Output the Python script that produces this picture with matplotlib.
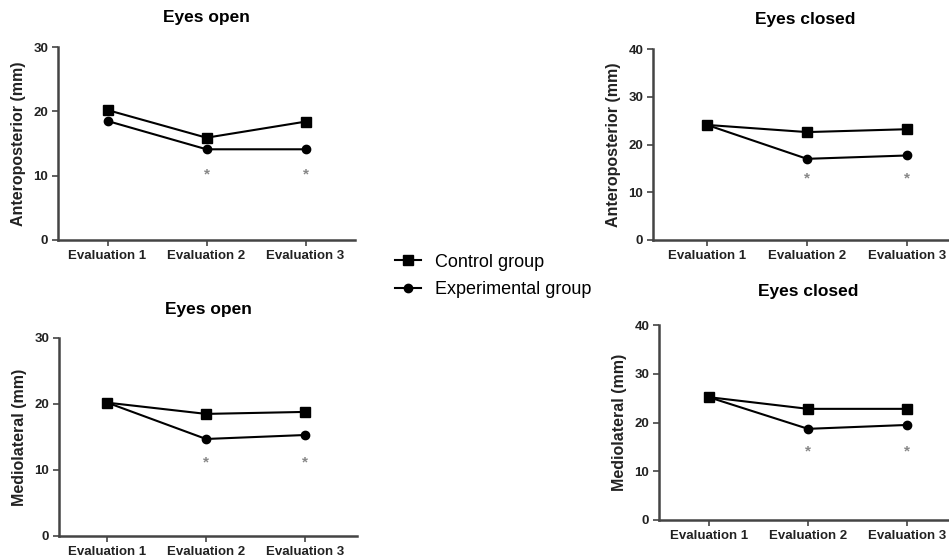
import matplotlib.pyplot as plt
import numpy as np

plt.rcParams['font.family'] = ['Liberation Sans', 'DejaVu Sans']

evals = ['Evaluation 1', 'Evaluation 2', 'Evaluation 3']

# anteroposterior, eyes open / closed
ap_open_ctrl = [20.2, 15.9, 18.4]
ap_open_exp = [18.5, 14.1, 14.1]
ap_closed_ctrl = [24.1, 22.6, 23.2]
ap_closed_exp = [24.1, 17.0, 17.7]
# mediolateral, eyes open / closed
ml_open_ctrl = [20.2, 18.5, 18.8]
ml_open_exp = [20.2, 14.7, 15.3]
ml_closed_ctrl = [25.2, 22.8, 22.8]
ml_closed_exp = [25.2, 18.7, 19.5]

# asterisk heights (significance marks at evaluation 2 and 3)
star_ap_open = [10.2, 10.2]
star_ap_closed = [12.8, 12.8]
star_ml_open = [11.2, 11.2]
star_ml_closed = [14.0, 14.0]

fig = plt.figure(figsize=(9.49, 5.6), dpi=100)
W, H = 949, 560

def make_ax(x0, y0, w, h):
    return fig.add_axes([x0 / W, 1 - y0 / H, w / W, h / H])

panels = [
    (make_ax(58, 240, 297, 193), ap_open_ctrl, ap_open_exp, star_ap_open, 30, 'Eyes open', 'Anteroposterior (mm)', (0.5, 3.5), 18),
    (make_ax(653, 240, 304, 191), ap_closed_ctrl, ap_closed_exp, star_ap_closed, 40, 'Eyes closed', 'Anteroposterior (mm)', (0.46, 3.5), 18),
    (make_ax(59, 536, 298, 198), ml_open_ctrl, ml_open_exp, star_ml_open, 30, 'Eyes open', 'Mediolateral (mm)', (0.51, 3.53), 17),
    (make_ax(659, 520, 298, 195), ml_closed_ctrl, ml_closed_exp, star_ml_closed, 40, 'Eyes closed', 'Mediolateral (mm)', (0.5, 3.5), 21),
]

x = np.arange(1, 4)
for ax, ctrl, exp, stars, ymax, title, ylab, xl, tpad in panels:
    l1, = ax.plot(x, ctrl, color='black', marker='s', markersize=6.5, lw=1.5, label='Control group')
    l2, = ax.plot(x, exp, color='black', marker='o', markersize=6, lw=1.5, label='Experimental group')
    for xs, ys in zip(x[1:], stars):
        ax.text(xs, ys, '*', ha='center', va='center', color='#888888', fontsize=11, fontweight='bold')
    ax.set_xlim(*xl)
    ax.set_ylim(0, ymax)
    ax.set_yticks(np.arange(0, ymax + 1, 10))
    ax.set_xticks(x)
    ax.set_xticklabels(evals)
    for s in ['top', 'right']:
        ax.spines[s].set_visible(False)
    for s in ['left', 'bottom']:
        ax.spines[s].set_color('#444444')
        ax.spines[s].set_linewidth(1.8)
    ax.tick_params(colors='#444444', width=1.2, length=4, pad=3, labelsize=9.5, labelcolor='#222222')
    for lab in ax.get_xticklabels() + ax.get_yticklabels():
        lab.set_fontweight('bold')
    ax.set_title(title, fontsize=12.5, fontweight='bold', pad=tpad)
    ax.set_ylabel(ylab, fontsize=11.5, fontweight='bold', color='#222222', labelpad=5)

fig.legend([l1, l2], ['Control group', 'Experimental group'], loc='center left',
           bbox_to_anchor=(379 / W, 1 - 276 / H), frameon=False, fontsize=13,
           handlelength=1.4, labelspacing=0.6, handletextpad=0.8)

fig.savefig('out.png', dpi=100)
